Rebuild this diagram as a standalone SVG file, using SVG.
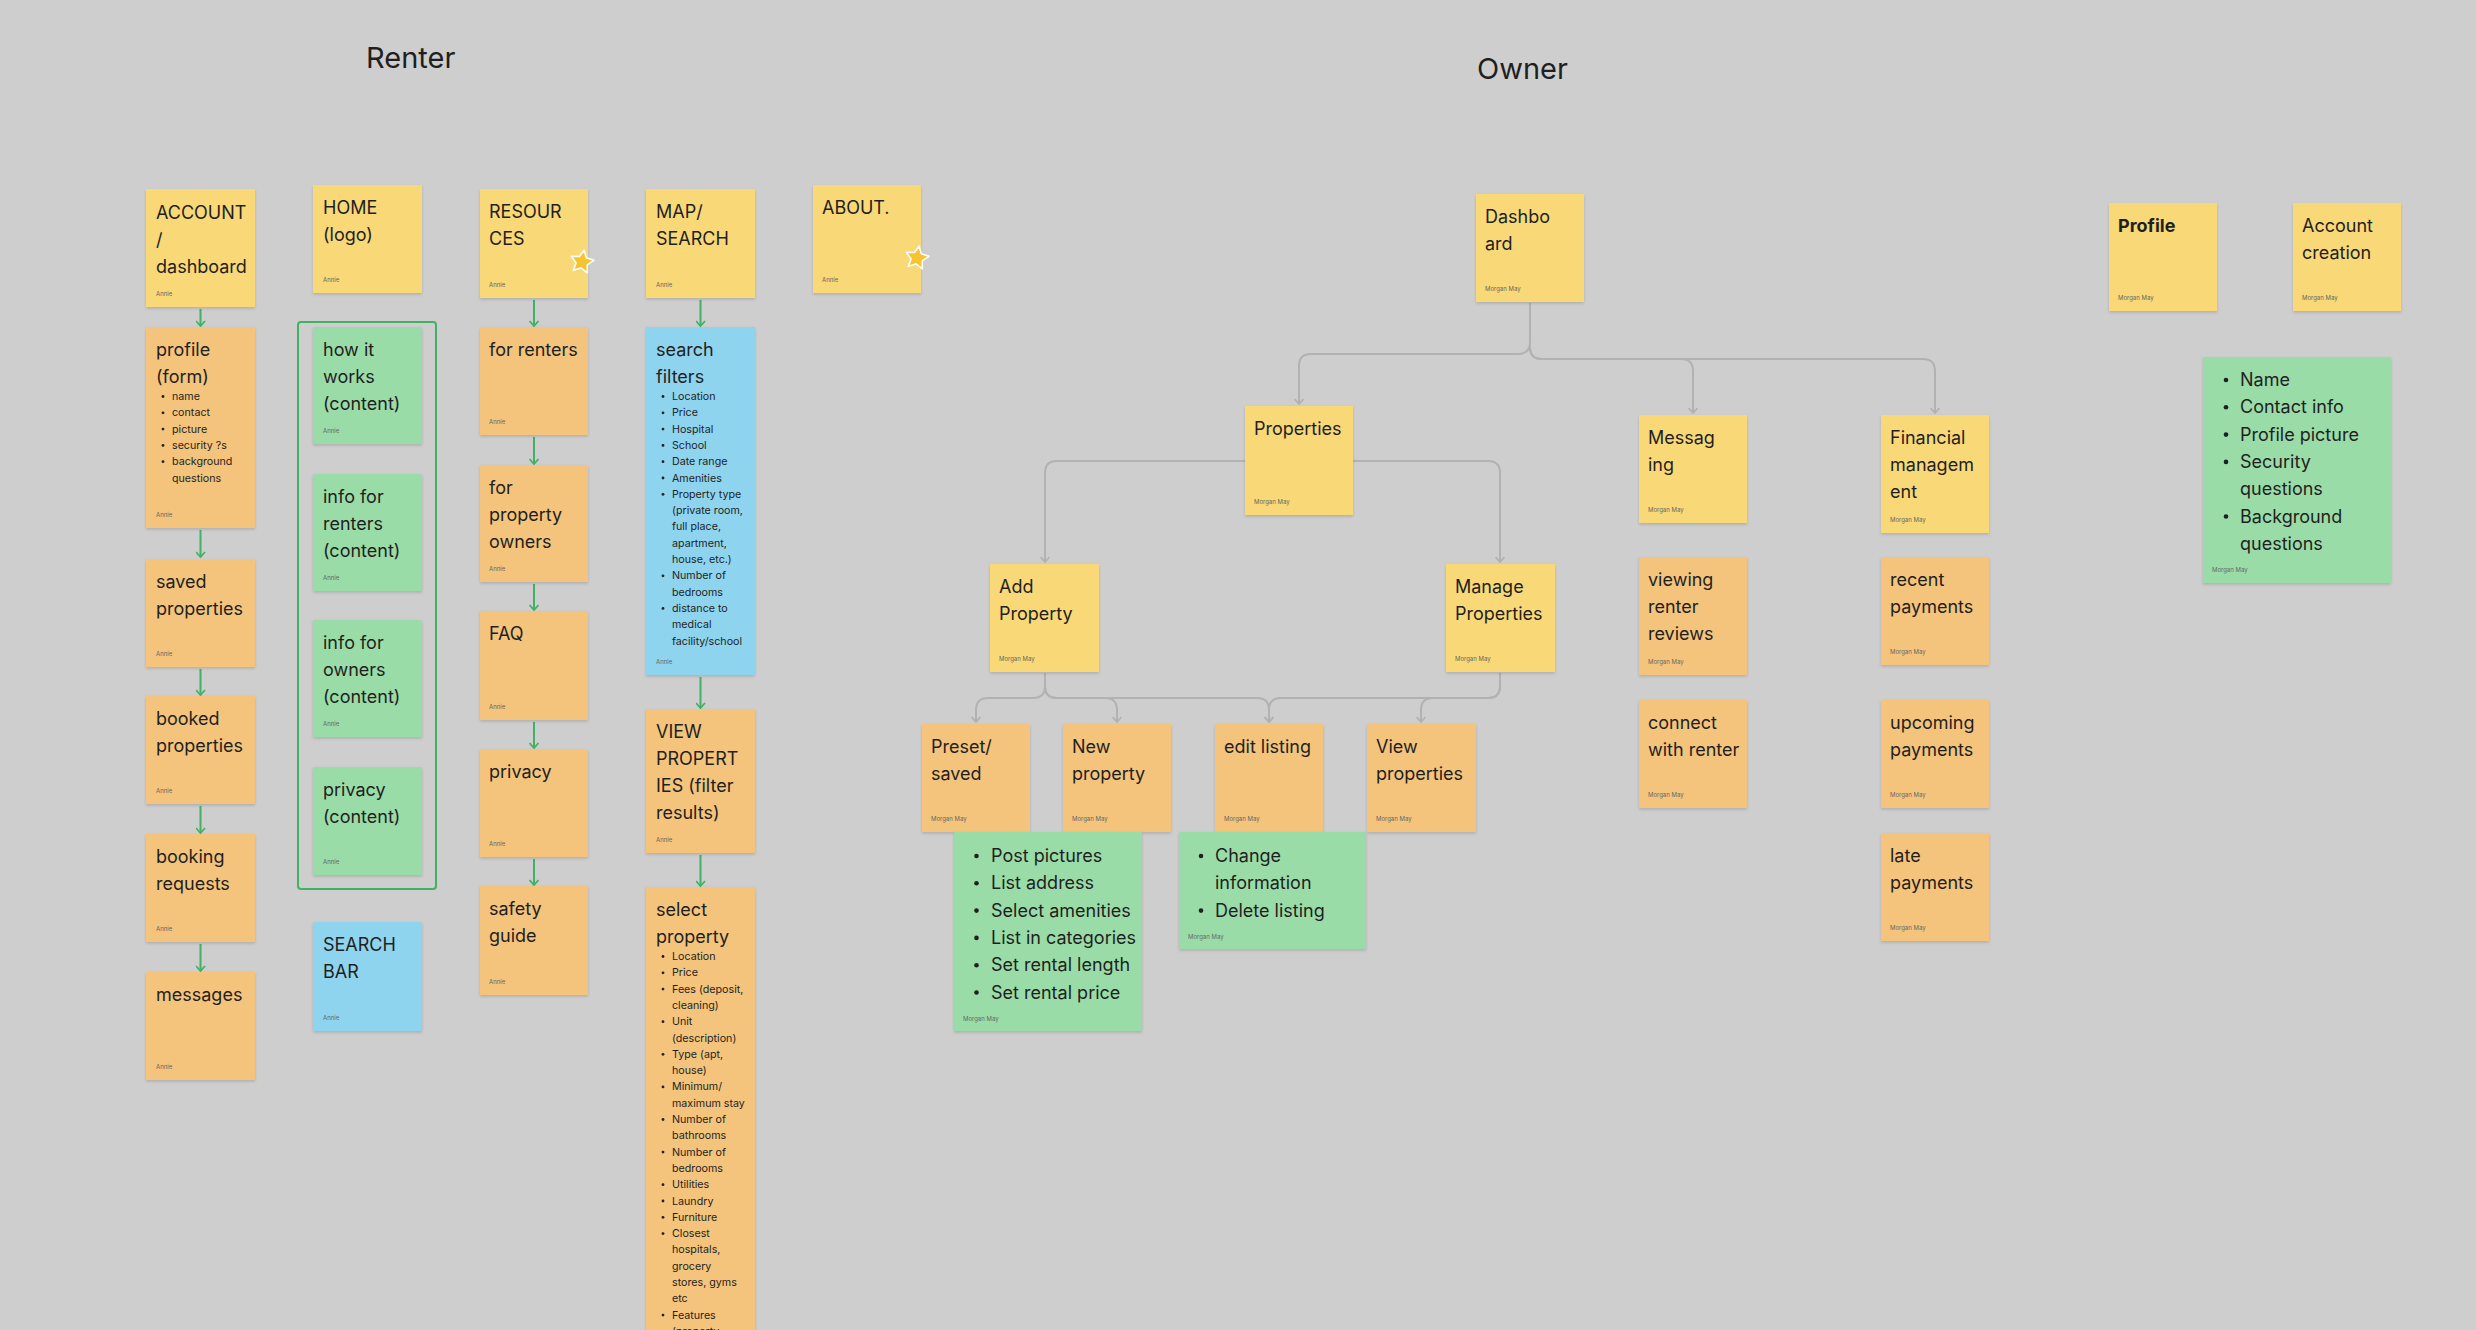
<svg xmlns="http://www.w3.org/2000/svg" width="2476" height="1330" viewBox="0 0 2476 1330">
<defs>
<style>
.bg{fill:#cecece}
.s{filter:url(#sh)}
.y{fill:#f9d878}
.o{fill:#f4c47c}
.g{fill:#9adca7}
.b{fill:#8ed4ee}
text{font-family:Inter,"Noto Sans","Liberation Sans",sans-serif;fill:#1f1f1f}
.t{font-size:18px}
.tb{font-size:18px;font-weight:700}
.l{font-size:10.7px}
.a{font-size:6px;fill:#666}
.h{font-size:29px}
.d{fill:#1f1f1f}
.cg{fill:none;stroke:#43b164;stroke-width:2;marker-end:url(#ag)}
.cx{fill:none;stroke:#b2b2b2;stroke-width:2;marker-end:url(#ax)}
.grp{fill:none;stroke:#43b164;stroke-width:2}
.star{fill:#f6c431;stroke:#ffffff;stroke-width:1.6;stroke-linejoin:round}
</style>
<filter id="sh" x="-10%" y="-10%" width="120%" height="130%">
<feDropShadow dx="0" dy="1.5" stdDeviation="1.5" flood-color="#000" flood-opacity="0.16"/>
</filter>
<marker id="ag" viewBox="0 0 10 10" refX="9" refY="5" markerWidth="10" markerHeight="10" markerUnits="userSpaceOnUse" orient="auto">
<path d="M4,0.5 L9,5 L4,9.5" fill="none" stroke="#43b164" stroke-width="1.8"/>
</marker>
<marker id="ax" viewBox="0 0 10 10" refX="9" refY="5" markerWidth="10" markerHeight="10" markerUnits="userSpaceOnUse" orient="auto">
<path d="M4,0.5 L9,5 L4,9.5" fill="none" stroke="#b2b2b2" stroke-width="1.8"/>
</marker>
</defs>
<rect class="bg" x="0" y="0" width="2476" height="1330"/>

<g id="titles">
<text class="h" x="366" y="68">Renter</text>
<text class="h" x="1477" y="79">Owner</text>
</g>

<g id="connectors">
<path class="cg" d="M200.5,309 V326"/>
<path class="cg" d="M200.5,530 V557"/>
<path class="cg" d="M200.5,669 V695"/>
<path class="cg" d="M200.5,806 V833"/>
<path class="cg" d="M200.5,944 V971"/>
<path class="cg" d="M534,300 V326"/>
<path class="cg" d="M534,437 V464"/>
<path class="cg" d="M534,584 V610"/>
<path class="cg" d="M534,722 V748"/>
<path class="cg" d="M534,859 V885"/>
<path class="cg" d="M700.5,300 V326"/>
<path class="cg" d="M700.5,677 V708"/>
<path class="cg" d="M700.5,855 V886"/>
<path class="cx" d="M1530,303 V342 Q1530,354 1518,354 H1311 Q1299,354 1299,366 V404"/>
<path class="cx" d="M1530,303 V347 Q1530,359 1542,359 H1681 Q1693,359 1693,371 V413"/>
<path class="cx" d="M1530,303 V347 Q1530,359 1542,359 H1923 Q1935,359 1935,371 V413"/>
<path class="cx" d="M1245,461 H1057 Q1045,461 1045,473 V562"/>
<path class="cx" d="M1353,461 H1488 Q1500,461 1500,473 V562"/>
<path class="cx" d="M1045,673 V686 Q1045,698 1033,698 H988 Q976,698 976,710 V722"/>
<path class="cx" d="M1045,673 V686 Q1045,698 1057,698 H1105 Q1117,698 1117,710 V722"/>
<path class="cx" d="M1045,673 V686 Q1045,698 1057,698 H1257 Q1269,698 1269,710 V722"/>
<path class="cx" d="M1500,673 V686 Q1500,698 1488,698 H1281 Q1269,698 1269,710 V722"/>
<path class="cx" d="M1500,673 V686 Q1500,698 1488,698 H1433 Q1421,698 1421,710 V722"/>
</g>

<g id="renter-content-group"><rect class="grp" x="298" y="322" width="138" height="567" rx="3"/></g>

<g id="account">
<rect class="s y" x="146" y="189" width="109" height="118"/>
<text class="t" x="156" y="219">ACCOUNT<tspan x="156" dy="27">/</tspan><tspan x="156" dy="27">dashboard</tspan></text>
<text class="a" x="156" y="296">Annie</text>
</g>
<g id="profile-form">
<rect class="s o" x="146" y="327" width="109" height="201"/>
<text class="t" x="156" y="356">profile<tspan x="156" dy="27">(form)</tspan></text>
<g class="d"><circle cx="163" cy="396.5" r="1.4"/><circle cx="163" cy="412.8" r="1.4"/><circle cx="163" cy="429.1" r="1.4"/><circle cx="163" cy="445.4" r="1.4"/><circle cx="163" cy="461.7" r="1.4"/></g>
<text class="l" x="172" y="400">name<tspan x="172" dy="16.3">contact</tspan><tspan x="172" dy="16.3">picture</tspan><tspan x="172" dy="16.3">security ?s</tspan><tspan x="172" dy="16.3">background</tspan><tspan x="172" dy="16.3">questions</tspan></text>
<text class="a" x="156" y="517">Annie</text>
</g>
<g id="saved-properties">
<rect class="s o" x="146" y="559" width="109" height="108"/>
<text class="t" x="156" y="588">saved<tspan x="156" dy="27">properties</tspan></text>
<text class="a" x="156" y="656">Annie</text>
</g>
<g id="booked-properties">
<rect class="s o" x="146" y="696" width="109" height="108"/>
<text class="t" x="156" y="725">booked<tspan x="156" dy="27">properties</tspan></text>
<text class="a" x="156" y="793">Annie</text>
</g>
<g id="booking-requests">
<rect class="s o" x="146" y="834" width="109" height="108"/>
<text class="t" x="156" y="863">booking<tspan x="156" dy="27">requests</tspan></text>
<text class="a" x="156" y="931">Annie</text>
</g>
<g id="messages">
<rect class="s o" x="146" y="972" width="109" height="108"/>
<text class="t" x="156" y="1001">messages</text>
<text class="a" x="156" y="1069">Annie</text>
</g>

<g id="home">
<rect class="s y" x="313" y="185" width="109" height="108"/>
<text class="t" x="323" y="214">HOME<tspan x="323" dy="27">(logo)</tspan></text>
<text class="a" x="323" y="282">Annie</text>
</g>
<g id="how-it-works">
<rect class="s g" x="313" y="327" width="109" height="117"/>
<text class="t" x="323" y="356">how it<tspan x="323" dy="27">works</tspan><tspan x="323" dy="27">(content)</tspan></text>
<text class="a" x="323" y="433">Annie</text>
</g>
<g id="info-for-renters">
<rect class="s g" x="313" y="474" width="109" height="117"/>
<text class="t" x="323" y="503">info for<tspan x="323" dy="27">renters</tspan><tspan x="323" dy="27">(content)</tspan></text>
<text class="a" x="323" y="580">Annie</text>
</g>
<g id="info-for-owners">
<rect class="s g" x="313" y="620" width="109" height="117"/>
<text class="t" x="323" y="649">info for<tspan x="323" dy="27">owners</tspan><tspan x="323" dy="27">(content)</tspan></text>
<text class="a" x="323" y="726">Annie</text>
</g>
<g id="privacy-content">
<rect class="s g" x="313" y="767" width="109" height="108"/>
<text class="t" x="323" y="796">privacy<tspan x="323" dy="27">(content)</tspan></text>
<text class="a" x="323" y="864">Annie</text>
</g>
<g id="search-bar">
<rect class="s b" x="313" y="922" width="109" height="109"/>
<text class="t" x="323" y="951">SEARCH<tspan x="323" dy="27">BAR</tspan></text>
<text class="a" x="323" y="1020">Annie</text>
</g>

<g id="resources">
<rect class="s y" x="480" y="189" width="108" height="109"/>
<text class="t" x="489" y="218">RESOUR<tspan x="489" dy="27">CES</tspan></text>
<text class="a" x="489" y="287">Annie</text>
<polygon class="star" transform="translate(582,262) rotate(10)" points="0,-12 3.5,-4.9 11.4,-3.7 5.7,1.9 7.1,9.7 0,6 -7.1,9.7 -5.7,1.9 -11.4,-3.7 -3.5,-4.9"/>
</g>
<g id="for-renters">
<rect class="s o" x="480" y="327" width="108" height="108"/>
<text class="t" x="489" y="356">for renters</text>
<text class="a" x="489" y="424">Annie</text>
</g>
<g id="for-property-owners">
<rect class="s o" x="480" y="465" width="108" height="117"/>
<text class="t" x="489" y="494">for<tspan x="489" dy="27">property</tspan><tspan x="489" dy="27">owners</tspan></text>
<text class="a" x="489" y="571">Annie</text>
</g>
<g id="faq">
<rect class="s o" x="480" y="611" width="108" height="109"/>
<text class="t" x="489" y="640">FAQ</text>
<text class="a" x="489" y="709">Annie</text>
</g>
<g id="privacy">
<rect class="s o" x="480" y="749" width="108" height="108"/>
<text class="t" x="489" y="778">privacy</text>
<text class="a" x="489" y="846">Annie</text>
</g>
<g id="safety-guide">
<rect class="s o" x="480" y="886" width="108" height="109"/>
<text class="t" x="489" y="915">safety<tspan x="489" dy="27">guide</tspan></text>
<text class="a" x="489" y="984">Annie</text>
</g>

<g id="map-search">
<rect class="s y" x="646" y="189" width="109" height="109"/>
<text class="t" x="656" y="218">MAP/<tspan x="656" dy="27">SEARCH</tspan></text>
<text class="a" x="656" y="287">Annie</text>
</g>
<g id="search-filters">
<rect class="s b" x="646" y="327" width="109" height="348"/>
<text class="t" x="656" y="356">search<tspan x="656" dy="27">filters</tspan></text>
<g class="d"><circle cx="663" cy="396.5" r="1.4"/><circle cx="663" cy="412.8" r="1.4"/><circle cx="663" cy="429.1" r="1.4"/><circle cx="663" cy="445.4" r="1.4"/><circle cx="663" cy="461.7" r="1.4"/><circle cx="663" cy="478" r="1.4"/><circle cx="663" cy="494.3" r="1.4"/><circle cx="663" cy="575.8" r="1.4"/><circle cx="663" cy="608.4" r="1.4"/></g>
<text class="l" x="672" y="400">Location<tspan x="672" dy="16.3">Price</tspan><tspan x="672" dy="16.3">Hospital</tspan><tspan x="672" dy="16.3">School</tspan><tspan x="672" dy="16.3">Date range</tspan><tspan x="672" dy="16.3">Amenities</tspan><tspan x="672" dy="16.3">Property type</tspan><tspan x="672" dy="16.3">(private room,</tspan><tspan x="672" dy="16.3">full place,</tspan><tspan x="672" dy="16.3">apartment,</tspan><tspan x="672" dy="16.3">house, etc.)</tspan><tspan x="672" dy="16.3">Number of</tspan><tspan x="672" dy="16.3">bedrooms</tspan><tspan x="672" dy="16.3">distance to</tspan><tspan x="672" dy="16.3">medical</tspan><tspan x="672" dy="16.3">facility/school</tspan></text>
<text class="a" x="656" y="664">Annie</text>
</g>
<g id="view-properties-filter">
<rect class="s o" x="646" y="709" width="109" height="144"/>
<text class="t" x="656" y="738">VIEW<tspan x="656" dy="27">PROPERT</tspan><tspan x="656" dy="27">IES (filter</tspan><tspan x="656" dy="27">results)</tspan></text>
<text class="a" x="656" y="842">Annie</text>
</g>
<g id="select-property">
<rect class="s o" x="646" y="887" width="109" height="470"/>
<text class="t" x="656" y="916">select<tspan x="656" dy="27">property</tspan></text>
<g class="d"><circle cx="663" cy="956.5" r="1.4"/><circle cx="663" cy="972.8" r="1.4"/><circle cx="663" cy="989.1" r="1.4"/><circle cx="663" cy="1021.7" r="1.4"/><circle cx="663" cy="1054.3" r="1.4"/><circle cx="663" cy="1086.9" r="1.4"/><circle cx="663" cy="1119.5" r="1.4"/><circle cx="663" cy="1152.1" r="1.4"/><circle cx="663" cy="1184.7" r="1.4"/><circle cx="663" cy="1201" r="1.4"/><circle cx="663" cy="1217.3" r="1.4"/><circle cx="663" cy="1233.6" r="1.4"/><circle cx="663" cy="1315.1" r="1.4"/></g>
<text class="l" x="672" y="960">Location<tspan x="672" dy="16.3">Price</tspan><tspan x="672" dy="16.3">Fees (deposit,</tspan><tspan x="672" dy="16.3">cleaning)</tspan><tspan x="672" dy="16.3">Unit</tspan><tspan x="672" dy="16.3">(description)</tspan><tspan x="672" dy="16.3">Type (apt,</tspan><tspan x="672" dy="16.3">house)</tspan><tspan x="672" dy="16.3">Minimum/</tspan><tspan x="672" dy="16.3">maximum stay</tspan><tspan x="672" dy="16.3">Number of</tspan><tspan x="672" dy="16.3">bathrooms</tspan><tspan x="672" dy="16.3">Number of</tspan><tspan x="672" dy="16.3">bedrooms</tspan><tspan x="672" dy="16.3">Utilities</tspan><tspan x="672" dy="16.3">Laundry</tspan><tspan x="672" dy="16.3">Furniture</tspan><tspan x="672" dy="16.3">Closest</tspan><tspan x="672" dy="16.3">hospitals,</tspan><tspan x="672" dy="16.3">grocery</tspan><tspan x="672" dy="16.3">stores, gyms</tspan><tspan x="672" dy="16.3">etc</tspan><tspan x="672" dy="16.3">Features</tspan><tspan x="672" dy="16.3">(property</tspan></text>
</g>

<g id="about">
<rect class="s y" x="813" y="185" width="108" height="108"/>
<text class="t" x="822" y="214">ABOUT.</text>
<text class="a" x="822" y="282">Annie</text>
<polygon class="star" transform="translate(917,258) rotate(10)" points="0,-12 3.5,-4.9 11.4,-3.7 5.7,1.9 7.1,9.7 0,6 -7.1,9.7 -5.7,1.9 -11.4,-3.7 -3.5,-4.9"/>
</g>

<g id="dashboard">
<rect class="s y" x="1476" y="194" width="108" height="108"/>
<text class="t" x="1485" y="223">Dashbo<tspan x="1485" dy="27">ard</tspan></text>
<text class="a" x="1485" y="291">Morgan May</text>
</g>
<g id="properties">
<rect class="s y" x="1245" y="406" width="108" height="109"/>
<text class="t" x="1254" y="435">Properties</text>
<text class="a" x="1254" y="504">Morgan May</text>
</g>
<g id="add-property">
<rect class="s y" x="990" y="564" width="109" height="108"/>
<text class="t" x="999" y="593">Add<tspan x="999" dy="27">Property</tspan></text>
<text class="a" x="999" y="661">Morgan May</text>
</g>
<g id="manage-properties">
<rect class="s y" x="1446" y="564" width="109" height="108"/>
<text class="t" x="1455" y="593">Manage<tspan x="1455" dy="27">Properties</tspan></text>
<text class="a" x="1455" y="661">Morgan May</text>
</g>
<g id="preset-saved">
<rect class="s o" x="922" y="724" width="108" height="108"/>
<text class="t" x="931" y="753">Preset/<tspan x="931" dy="27">saved</tspan></text>
<text class="a" x="931" y="821">Morgan May</text>
</g>
<g id="new-property">
<rect class="s o" x="1063" y="724" width="108" height="108"/>
<text class="t" x="1072" y="753">New<tspan x="1072" dy="27">property</tspan></text>
<text class="a" x="1072" y="821">Morgan May</text>
</g>
<g id="edit-listing">
<rect class="s o" x="1215" y="724" width="108" height="108"/>
<text class="t" x="1224" y="753">edit listing</text>
<text class="a" x="1224" y="821">Morgan May</text>
</g>
<g id="view-properties">
<rect class="s o" x="1367" y="724" width="109" height="108"/>
<text class="t" x="1376" y="753">View<tspan x="1376" dy="27">properties</tspan></text>
<text class="a" x="1376" y="821">Morgan May</text>
</g>
<g id="new-property-details">
<rect class="s g" x="954" y="832" width="188" height="199"/>
<g class="d"><circle cx="976.5" cy="856" r="2.3"/><circle cx="976.5" cy="883.3" r="2.3"/><circle cx="976.5" cy="910.6" r="2.3"/><circle cx="976.5" cy="937.9" r="2.3"/><circle cx="976.5" cy="965.2" r="2.3"/><circle cx="976.5" cy="992.5" r="2.3"/></g>
<text class="t" x="991" y="862">Post pictures<tspan x="991" dy="27.3">List address</tspan><tspan x="991" dy="27.3">Select amenities</tspan><tspan x="991" dy="27.3">List in categories</tspan><tspan x="991" dy="27.3">Set rental length</tspan><tspan x="991" dy="27.3">Set rental price</tspan></text>
<text class="a" x="963" y="1021">Morgan May</text>
</g>
<g id="edit-listing-details">
<rect class="s g" x="1179" y="832" width="187" height="117"/>
<g class="d"><circle cx="1201" cy="856" r="2.3"/><circle cx="1201" cy="910.6" r="2.3"/></g>
<text class="t" x="1215" y="862">Change<tspan x="1215" dy="27.3">information</tspan><tspan x="1215" dy="27.3">Delete listing</tspan></text>
<text class="a" x="1188" y="939">Morgan May</text>
</g>
<g id="messaging">
<rect class="s y" x="1639" y="415" width="108" height="108"/>
<text class="t" x="1648" y="444">Messag<tspan x="1648" dy="27">ing</tspan></text>
<text class="a" x="1648" y="512">Morgan May</text>
</g>
<g id="viewing-renter-reviews">
<rect class="s o" x="1639" y="557" width="108" height="118"/>
<text class="t" x="1648" y="586">viewing<tspan x="1648" dy="27">renter</tspan><tspan x="1648" dy="27">reviews</tspan></text>
<text class="a" x="1648" y="664">Morgan May</text>
</g>
<g id="connect-with-renter">
<rect class="s o" x="1639" y="700" width="108" height="108"/>
<text class="t" x="1648" y="729">connect<tspan x="1648" dy="27">with renter</tspan></text>
<text class="a" x="1648" y="797">Morgan May</text>
</g>
<g id="financial-management">
<rect class="s y" x="1881" y="415" width="108" height="118"/>
<text class="t" x="1890" y="444">Financial<tspan x="1890" dy="27">managem</tspan><tspan x="1890" dy="27">ent</tspan></text>
<text class="a" x="1890" y="522">Morgan May</text>
</g>
<g id="recent-payments">
<rect class="s o" x="1881" y="557" width="108" height="108"/>
<text class="t" x="1890" y="586">recent<tspan x="1890" dy="27">payments</tspan></text>
<text class="a" x="1890" y="654">Morgan May</text>
</g>
<g id="upcoming-payments">
<rect class="s o" x="1881" y="700" width="108" height="108"/>
<text class="t" x="1890" y="729">upcoming<tspan x="1890" dy="27">payments</tspan></text>
<text class="a" x="1890" y="797">Morgan May</text>
</g>
<g id="late-payments">
<rect class="s o" x="1881" y="833" width="108" height="108"/>
<text class="t" x="1890" y="862">late<tspan x="1890" dy="27">payments</tspan></text>
<text class="a" x="1890" y="930">Morgan May</text>
</g>
<g id="profile">
<rect class="s y" x="2109" y="203" width="108" height="108"/>
<text class="tb" x="2118" y="232">Profile</text>
<text class="a" x="2118" y="300">Morgan May</text>
</g>
<g id="account-creation">
<rect class="s y" x="2293" y="203" width="108" height="108"/>
<text class="t" x="2302" y="232">Account<tspan x="2302" dy="27">creation</tspan></text>
<text class="a" x="2302" y="300">Morgan May</text>
</g>
<g id="profile-details">
<rect class="s g" x="2203" y="357" width="188" height="226"/>
<g class="d"><circle cx="2226" cy="380" r="2.3"/><circle cx="2226" cy="407.3" r="2.3"/><circle cx="2226" cy="434.6" r="2.3"/><circle cx="2226" cy="461.9" r="2.3"/><circle cx="2226" cy="516.5" r="2.3"/></g>
<text class="t" x="2240" y="386">Name<tspan x="2240" dy="27.3">Contact info</tspan><tspan x="2240" dy="27.3">Profile picture</tspan><tspan x="2240" dy="27.3">Security</tspan><tspan x="2240" dy="27.3">questions</tspan><tspan x="2240" dy="27.3">Background</tspan><tspan x="2240" dy="27.3">questions</tspan></text>
<text class="a" x="2212" y="572">Morgan May</text>
</g>
</svg>
